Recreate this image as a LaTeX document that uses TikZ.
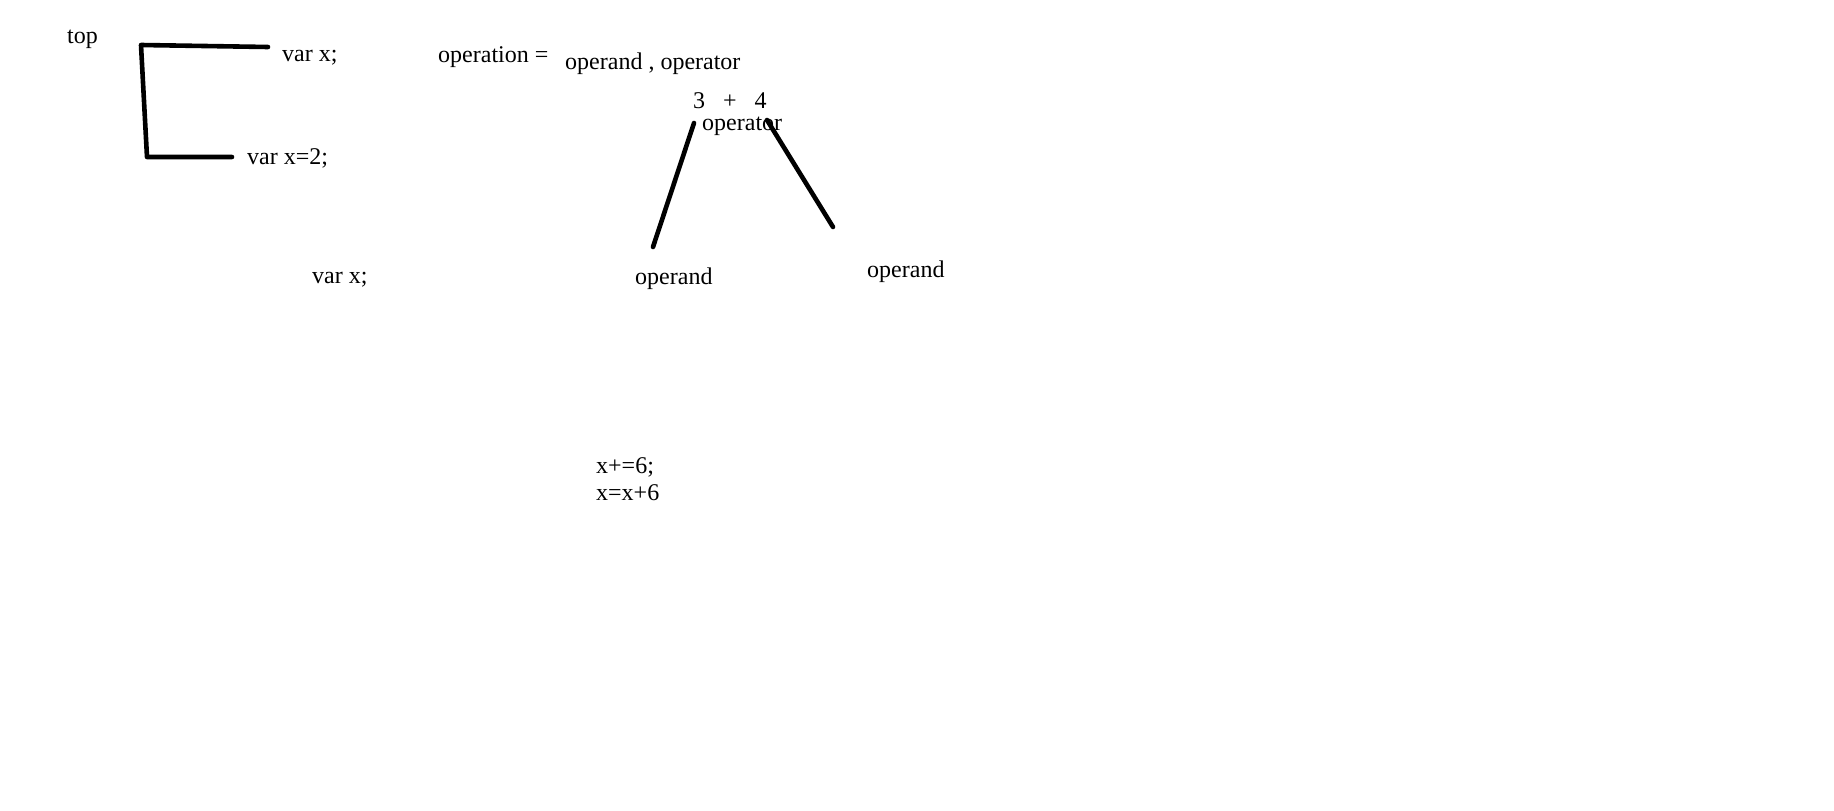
\documentclass[tikz,border=0pt]{standalone}
\usepackage{fontspec}
\setmainfont{Liberation Serif}
\begin{document}
\begin{tikzpicture}[x=1pt,y=-1pt,
  lbl/.style={anchor=base west,inner sep=0pt,font=\fontsize{24}{28}\selectfont},
  pen/.style={line width=4.6pt,line cap=round,line join=round}]
\useasboundingbox (0,0) rectangle (1834,811);
\fill[white] (0,0) rectangle (1834,811);
% texts
\node[lbl] (top) at (67,43) {top};
\node[lbl] (varx) at (282,61) {var x;};
\node[lbl] (varx2) at (247,164) {var x=2;};
\node[lbl] (varx3) at (312,283) {var x;};
\node[lbl] (opeq) at (438,62) {operation =};
\node[lbl] (opop) at (565,69) {operand , operator};
\node[lbl] (expr) at (693,108) {3\ \ \ +\ \ \ 4};
\node[lbl] (oper) at (702,130) {operator};
\node[lbl] (opnd1) at (635,284) {operand};
\node[lbl] (opnd2) at (867,277) {operand};
\node[lbl] (inc1) at (596,473) {x+=6;};
\node[lbl] (inc2) at (596,500) {x=x+6};
% bracket
\coordinate (b1) at (268,47);
\coordinate (b2) at (141,45);
\coordinate (b3) at (147,157);
\coordinate (b4) at (232,157);
\draw[pen] (b1) -- (b2) -- (b3) -- (b4);
% tree lines
\coordinate (l1) at (694,123);
\coordinate (l2) at (653,247);
\coordinate (r1) at (767,120);
\coordinate (r2) at (833,227);
\draw[pen] (l1) -- (l2);
\draw[pen] (r1) -- (r2);
\end{tikzpicture}
\end{document}
